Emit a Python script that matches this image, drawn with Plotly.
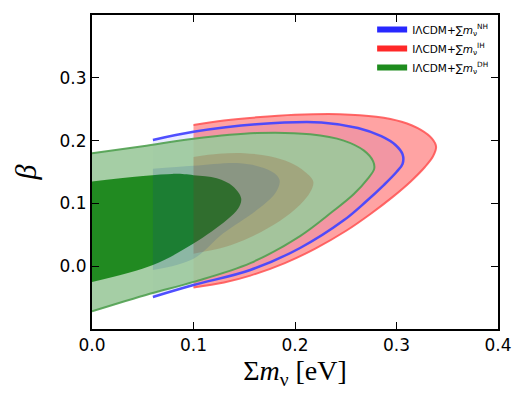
import plotly.graph_objects as go

# ---- contour boundaries (x = sum m_nu [eV], y = beta) ----
# path: top-left corner -> along upper edge -> tip -> along lower edge -> bottom-left corner
ih_2s_x = [0.100, 0.130, 0.162, 0.200, 0.244, 0.280, 0.305, 0.324, 0.335, 0.339, 0.336, 0.328, 0.314, 0.296, 0.275, 0.250, 0.220, 0.190, 0.156, 0.130, 0.100]
ih_2s_y = [0.225, 0.232, 0.237, 0.241, 0.242, 0.238, 0.230, 0.217, 0.203, 0.190, 0.175, 0.158, 0.135, 0.110, 0.084, 0.056, 0.028, 0.005, -0.015, -0.026, -0.034]

nh_2s_x = [0.060, 0.100, 0.162, 0.226, 0.262, 0.285, 0.299, 0.306, 0.306, 0.300, 0.288, 0.270, 0.248, 0.205, 0.156, 0.100, 0.060]
nh_2s_y = [0.201, 0.214, 0.226, 0.229, 0.220, 0.207, 0.193, 0.178, 0.163, 0.150, 0.130, 0.103, 0.073, 0.029, -0.006, -0.030, -0.049]

dh_2s_x = [0.000, 0.050, 0.100, 0.162, 0.215, 0.248, 0.268, 0.277, 0.278, 0.272, 0.258, 0.237, 0.205, 0.156, 0.100, 0.057, 0.000]
dh_2s_y = [0.180, 0.191, 0.203, 0.212, 0.210, 0.200, 0.184, 0.167, 0.155, 0.140, 0.115, 0.087, 0.048, 0.005, -0.025, -0.044, -0.072]

dh_1s_x = [0.000, 0.079, 0.100, 0.123, 0.139, 0.147, 0.144, 0.133, 0.100, 0.060, 0.000]
dh_1s_y = [0.135, 0.147, 0.145, 0.140, 0.127, 0.108, 0.092, 0.074, 0.036, 0.002, -0.025]

ih_1s_x = [0.100, 0.125, 0.150, 0.175, 0.195, 0.210, 0.218, 0.215, 0.205, 0.185, 0.156, 0.130, 0.100]
ih_1s_y = [0.174, 0.179, 0.180, 0.175, 0.165, 0.150, 0.135, 0.118, 0.098, 0.072, 0.046, 0.030, 0.020]

nh_1s_x = [0.060, 0.100, 0.146, 0.170, 0.182, 0.185, 0.180, 0.162, 0.129, 0.100, 0.060]
nh_1s_y = [0.155, 0.160, 0.164, 0.156, 0.145, 0.135, 0.115, 0.089, 0.052, 0.012, -0.006]

labels = ["I\u039bCDM+\u2211<i>m</i><sub>\u03bd</sub><sup>NH</sup>",
          "I\u039bCDM+\u2211<i>m</i><sub>\u03bd</sub><sup>IH</sup>",
          "I\u039bCDM+\u2211<i>m</i><sub>\u03bd</sub><sup>DH</sup>"]
x_ticks = [0.0, 0.1, 0.2, 0.3, 0.4]
y_ticks = [0.0, 0.1, 0.2, 0.3]

fig = go.Figure()

def fill(x, y, color):
    fig.add_trace(go.Scatter(x=x, y=y, mode="lines", fill="toself", fillcolor=color,
                             line=dict(width=0, shape="spline", smoothing=1),
                             hoverinfo="skip", showlegend=False))

def outline(x, y, color, w):
    fig.add_trace(go.Scatter(x=x, y=y, mode="lines",
                             line=dict(color=color, width=w, shape="spline", smoothing=1),
                             hoverinfo="skip", showlegend=False))

fill(nh_2s_x, nh_2s_y, "rgba(0,0,255,0.08)")
fill(ih_2s_x, ih_2s_y, "rgba(255,0,0,0.36)")
fill(dh_2s_x, dh_2s_y, "rgba(155,201,155,0.9)")
fill(dh_1s_x, dh_1s_y, "rgba(19,131,19,0.9)")
fill(ih_1s_x, ih_1s_y, "rgba(150,50,10,0.2)")
fill(nh_1s_x, nh_1s_y, "rgba(0,60,160,0.14)")

outline(dh_2s_x, dh_2s_y, "rgba(80,160,80,0.9)", 2)
outline(ih_2s_x, ih_2s_y, "rgba(255,80,80,0.85)", 2)
outline(nh_2s_x, nh_2s_y, "rgba(70,70,255,0.95)", 2.5)

legend_colors = ["rgb(40,40,255)", "rgb(255,40,40)", "rgb(30,140,30)"]
for lab, col in zip(labels, legend_colors):
    fig.add_trace(go.Scatter(x=[None], y=[None], mode="lines", name=lab,
                             line=dict(color=col, width=6), legendgroup=lab))

axis_common = dict(showline=True, linecolor="black", linewidth=2, mirror="ticks",
                   ticks="inside", ticklen=7, tickwidth=1, tickcolor="black",
                   showgrid=False, zeroline=False,
                   tickfont=dict(family="DejaVu Sans", size=17, color="black"))

fig.update_layout(
    width=529, height=409,
    margin=dict(l=92, r=31, t=15, b=80),
    plot_bgcolor="white", paper_bgcolor="white",
    xaxis=dict(range=[0, 0.4], tickvals=x_ticks, ticktext=[f"{v:.1f}" for v in x_ticks],
               title=dict(text="\u03a3<i>m</i><sub>\u03bd</sub> [eV]",
                          font=dict(family="Liberation Serif", size=28, color="black"),
                          standoff=6),
               **axis_common),
    yaxis=dict(range=[-0.1, 0.4], tickvals=y_ticks, ticktext=[f"{v:.1f}" for v in y_ticks],
               title=dict(text="<i>\u03b2</i>",
                          font=dict(family="Liberation Serif", size=30, color="black"),
                          standoff=14),
               **axis_common),
    legend=dict(x=0.69, y=1.0, xanchor="left", yanchor="top",
                bgcolor="rgba(0,0,0,0)", borderwidth=0,
                font=dict(family="DejaVu Sans", size=10.5, color="black"),
                itemwidth=30, tracegroupgap=0),
    showlegend=True,
)

fig.write_html("out.html")
